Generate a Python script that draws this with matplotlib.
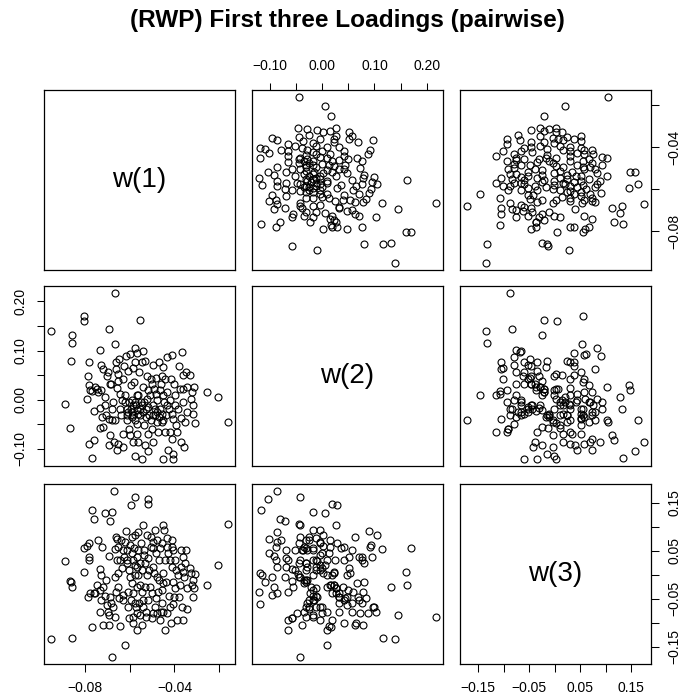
"""
Pairwise scatter plot of the first three RWP loadings, drawn panel by
panel in the layout of R's pairs(): names on the diagonal, axes
alternating around the outer edge.
"""

import matplotlib
matplotlib.use("Agg")
import matplotlib.pyplot as plt

plt.rcParams["font.family"] = ["Liberation Sans", "DejaVu Sans"]

TITULO = "(RWP) First three Loadings (pairwise)"
NOMBRES = ["w(1)", "w(2)", "w(3)"]

w1 = [
    -0.0952, -0.0888, -0.0869, -0.0861, -0.0860, -0.0857, -0.0804, -0.0804, -0.0790, -0.0788,
    -0.0781, -0.0781, -0.0781, -0.0778, -0.0769, -0.0767, -0.0758, -0.0758, -0.0755, -0.0748,
    -0.0740, -0.0733, -0.0733, -0.0731, -0.0728, -0.0727, -0.0725, -0.0718, -0.0718, -0.0711,
    -0.0709, -0.0706, -0.0703, -0.0697, -0.0694, -0.0694, -0.0691, -0.0688, -0.0688, -0.0684,
    -0.0681, -0.0681, -0.0673, -0.0672, -0.0667, -0.0666, -0.0664, -0.0661, -0.0661, -0.0658,
    -0.0658, -0.0651, -0.0651, -0.0651, -0.0647, -0.0644, -0.0644, -0.0641, -0.0636, -0.0632,
    -0.0629, -0.0629, -0.0624, -0.0621, -0.0621, -0.0617, -0.0614, -0.0614, -0.0611, -0.0606,
    -0.0606, -0.0605, -0.0602, -0.0599, -0.0599, -0.0596, -0.0594, -0.0591, -0.0591, -0.0590,
    -0.0587, -0.0587, -0.0584, -0.0584, -0.0581, -0.0578, -0.0577, -0.0577, -0.0577, -0.0577,
    -0.0572, -0.0569, -0.0569, -0.0569, -0.0566, -0.0566, -0.0562, -0.0562, -0.0562, -0.0557,
    -0.0556, -0.0554, -0.0554, -0.0551, -0.0547, -0.0547, -0.0547, -0.0542, -0.0539, -0.0539,
    -0.0536, -0.0536, -0.0532, -0.0532, -0.0527, -0.0527, -0.0524, -0.0524, -0.0520, -0.0517,
    -0.0517, -0.0517, -0.0512, -0.0509, -0.0506, -0.0506, -0.0502, -0.0502, -0.0498, -0.0495,
    -0.0495, -0.0495, -0.0492, -0.0487, -0.0486, -0.0483, -0.0483, -0.0480, -0.0477, -0.0477,
    -0.0472, -0.0468, -0.0468, -0.0465, -0.0465, -0.0462, -0.0457, -0.0457, -0.0457, -0.0453,
    -0.0450, -0.0450, -0.0450, -0.0447, -0.0442, -0.0442, -0.0438, -0.0435, -0.0435, -0.0432,
    -0.0427, -0.0423, -0.0420, -0.0420, -0.0417, -0.0413, -0.0413, -0.0413, -0.0408, -0.0405,
    -0.0405, -0.0402, -0.0398, -0.0396, -0.0393, -0.0387, -0.0383, -0.0378, -0.0375, -0.0372,
    -0.0369, -0.0365, -0.0363, -0.0363, -0.0360, -0.0357, -0.0353, -0.0349, -0.0346, -0.0343,
    -0.0331, -0.0328, -0.0323, -0.0319, -0.0316, -0.0311, -0.0308, -0.0253, -0.0206, -0.0161,
]

w2 = [
    0.1393, -0.0095, -0.0575, 0.0798, 0.1156, 0.1325, 0.1697, 0.1595, 0.0020, 0.0480,
    0.0764, 0.0291, -0.0892, 0.0189, 0.0169, -0.1176, -0.0818, -0.0237, 0.0257, 0.0223,
    0.0155, -0.0169, -0.0575, 0.1021, 0.0189, 0.0710, -0.0352, 0.0629, -0.0554, 0.0054,
    -0.0115, -0.0318, 0.0480, 0.0561, 0.1447, -0.0926, -0.0385, -0.0723, 0.0324, 0.0324,
    -0.0183, -0.0419, -0.0047, -0.0859, 0.1142, -0.0419, 0.2177, 0.0777, 0.0629, 0.0243,
    -0.1028, 0.0392, 0.0527, -0.0892, 0.0831, 0.0122, -0.0183, -0.0318, -0.0014, -0.0690,
    -0.0960, 0.0426, 0.0696, 0.0088, -0.0047, 0.0886, -0.0183, -0.0318, -0.0419, 0.0595,
    -0.0250, -0.0588, -0.0047, -0.0723, 0.0926, -0.0183, 0.0291, -0.0014, -0.0352, -0.0250,
    -0.0859, -0.0115, -0.0318, 0.0642, 0.0358, -0.1149, 0.1055, 0.0764, -0.0047, -0.0419,
    -0.0115, -0.0487, -0.0690, 0.0088, 0.0946, -0.0216, -0.0859, 0.0088, -0.0284, 0.0561,
    0.1616, -0.0318, -0.0183, -0.0047, -0.1210, 0.0777, -0.0115, 0.1000, 0.0257, -0.0250,
    -0.0521, -0.0047, 0.0798, -0.0926, -0.0183, -0.0352, 0.0020, 0.0480, 0.0189, -0.1048,
    -0.0690, -0.0149, -0.0318, 0.0088, 0.0426, -0.0419, -0.0588, 0.0324, 0.0717, -0.0115,
    -0.0859, -0.0318, 0.0223, -0.0318, -0.0183, 0.0439, 0.0122, -0.0014, -0.0453, -0.0250,
    -0.0656, 0.0764, -0.0352, -0.0183, 0.0189, 0.0324, 0.0493, -0.0453, -0.0284, 0.0662,
    -0.1197, 0.0088, -0.0419, -0.0047, 0.0426, -0.0656, -0.0318, 0.0155, -0.0115, 0.0879,
    -0.1028, -0.0183, -0.0656, -0.0014, 0.0426, 0.0913, -0.0791, -0.0284, -0.1095, -0.1197,
    -0.0385, 0.0324, 0.0088, -0.0115, -0.0521, -0.0656, -0.0183, 0.0683, 0.0223, -0.0372,
    -0.0859, 0.0967, 0.0507, 0.0223, -0.0047, -0.0960, -0.0453, 0.0561, 0.0257, -0.0250,
    0.0507, 0.0020, 0.0155, -0.0101, -0.0297, 0.0257, -0.0466, 0.0162, 0.0047, -0.0453,
]

w3 = [
    -0.1346, 0.0285, -0.0125, -0.0146, -0.1326, -0.0250, 0.0562, 0.0049, 0.0597, -0.0472,
    0.0375, 0.0666, 0.0305, -0.0375, -0.1083, 0.1346, 0.1159, -0.0375, -0.0375, -0.0215,
    0.0722, -0.0319, 0.0111, -0.0770, -0.0007, -0.0527, 0.0583, -0.1048, -0.0250, 0.1277,
    -0.0444, -0.0111, -0.0632, -0.0770, -0.0840, 0.0389, -0.1048, 0.1117, -0.0458, -0.0597,
    0.1312, -0.1721, -0.0666, 0.1749, 0.0527, -0.0042, -0.0874, -0.0354, 0.0791, 0.0305,
    0.0736, -0.0250, 0.0028, 0.0583, -0.0493, -0.1069, 0.0305, 0.0722, 0.0132, 0.0514,
    -0.0423, -0.0527, 0.0375, -0.1464, 0.0687, 0.0909, 0.0514, 0.0236, 0.0305, -0.0354,
    -0.0666, -0.0909, 0.0097, -0.0042, 0.0618, -0.0527, 0.1450, 0.0444, -0.0180, 0.0791,
    -0.0389, 0.0305, -0.0874, -0.1013, 0.0548, -0.0007, 0.0826, -0.0597, 0.0201, 0.1624,
    -0.0666, -0.0805, 0.0167, -0.1152, 0.0375, -0.0250, 0.0895, -0.0007, 0.0514, -0.0597,
    -0.0215, 0.0236, -0.0840, 0.0666, -0.0354, -0.1048, 0.0097, -0.0666, 0.1034, -0.0527,
    0.0514, 0.0409, 0.0236, -0.0250, -0.0874, -0.0770, 0.0826, -0.0007, 0.1471, 0.1568,
    0.0340, -0.0527, 0.0097, -0.0250, 0.0583, 0.0791, -0.0909, -0.0389, -0.0805, 0.0167,
    0.0687, 0.0548, 0.0028, -0.0666, 0.0930, -0.0493, 0.0444, -0.0805, -0.0042, 0.0722,
    -0.0354, 0.0305, -0.0111, 0.0548, -0.0944, -0.0770, -0.0319, 0.0666, -0.0597, -0.0180,
    0.0028, -0.0770, 0.1034, 0.0930, 0.0305, -0.1152, -0.0146, 0.0583, 0.0756, -0.0805,
    0.0444, -0.0444, 0.0305, -0.0666, -0.1013, 0.0583, 0.0722, 0.0167, -0.0146, -0.0611,
    0.0514, -0.0458, 0.0305, -0.0285, 0.0097, -0.0944, -0.0007, -0.0458, -0.0215, 0.0514,
    0.0167, -0.0680, 0.0375, 0.0062, -0.0944, -0.0042, 0.0236, 0.0514, -0.0285, -0.0722,
    0.0132, 0.0028, -0.0215, -0.0458, -0.0111, -0.0285, 0.0014, -0.0215, 0.0201, 0.1048,
]

# R only prints every other label when they would overlap
TICKS_W1 = [-0.08, -0.06, -0.04, -0.02]
LABELS_W1 = ["\u22120.08", "", "\u22120.04", ""]
TICKS_W2 = [-0.10, -0.05, 0.00, 0.05, 0.10, 0.15, 0.20]
LABELS_W2 = ["\u22120.10", "", "0.00", "", "0.10", "", "0.20"]
TICKS_W3 = [-0.15, -0.10, -0.05, 0.00, 0.05, 0.10, 0.15]
LABELS_W3 = ["\u22120.15", "", "\u22120.05", "", "0.05", "", "0.15"]

datos = [w1, w2, w3]
ticks = [TICKS_W1, TICKS_W2, TICKS_W3]
etiquetas = [LABELS_W1, LABELS_W2, LABELS_W3]

# panel boxes in pixels (figure is 695 x 700)
ANCHO_FIG, ALTO_FIG = 695, 700
IZQ = [44, 252, 460]
ARRIBA = [90, 286, 484]
ANCHO, ALTO = 191, 180


def rango(v):
    # same 4% padding R uses for plot limits
    lo, hi = min(v), max(v)
    d = (hi - lo) * 0.04
    return lo - d, hi + d


def estilo_ejes(ax):
    ax.tick_params(which="both", direction="out", length=5.4, width=0.75,
                   labelsize=10, pad=6.5, colors="black")
    for s in ax.spines.values():
        s.set_linewidth(0.9)
        s.set_color("black")


def main():
    fig = plt.figure(figsize=(ANCHO_FIG / 100, ALTO_FIG / 100), dpi=100)
    limites = [rango(v) for v in datos]

    for i in range(3):
        for j in range(3):
            rect = [IZQ[j] / ANCHO_FIG,
                    1 - (ARRIBA[i] + ALTO) / ALTO_FIG,
                    ANCHO / ANCHO_FIG,
                    ALTO / ALTO_FIG]
            ax = fig.add_axes(rect)
            estilo_ejes(ax)
            ax.set_xlim(limites[j])
            ax.set_ylim(limites[i])
            ax.set_xticks([])
            ax.set_yticks([])

            if i == j:
                ax.text(0.5, 0.5, NOMBRES[i], transform=ax.transAxes,
                        ha="center", va="center", fontsize=20)
            else:
                ax.plot(datos[j], datos[i], "o", mfc="none", mec="black",
                        ms=5, mew=0.8, linestyle="none")

            # x axes: top for even columns in the first row, bottom for odd ones
            if i == 0 and j % 2 == 1:
                ax.xaxis.set_ticks_position("top")
                ax.set_xticks(ticks[j], etiquetas[j])
            if i == 2 and j % 2 == 0:
                ax.xaxis.set_ticks_position("bottom")
                ax.set_xticks(ticks[j], etiquetas[j])
            # y axes: left for even rows, right for odd rows
            if j == 0 and i % 2 == 1:
                ax.yaxis.set_ticks_position("left")
                ax.set_yticks(ticks[i], etiquetas[i])
                ax.tick_params(axis="y", labelrotation=90)
                for lbl in ax.get_yticklabels():
                    lbl.set_verticalalignment("center")
            if j == 2 and i % 2 == 0:
                ax.yaxis.set_ticks_position("right")
                ax.set_yticks(ticks[i], etiquetas[i])
                ax.tick_params(axis="y", labelrotation=90)
                for lbl in ax.get_yticklabels():
                    lbl.set_verticalalignment("center")

    fig.text(0.5, 1 - 20 / ALTO_FIG, TITULO, ha="center", va="center",
             fontsize=17.6, fontweight="bold")

    fig.savefig("out.png", dpi=100)
    plt.close(fig)


if __name__ == "__main__":
    main()
